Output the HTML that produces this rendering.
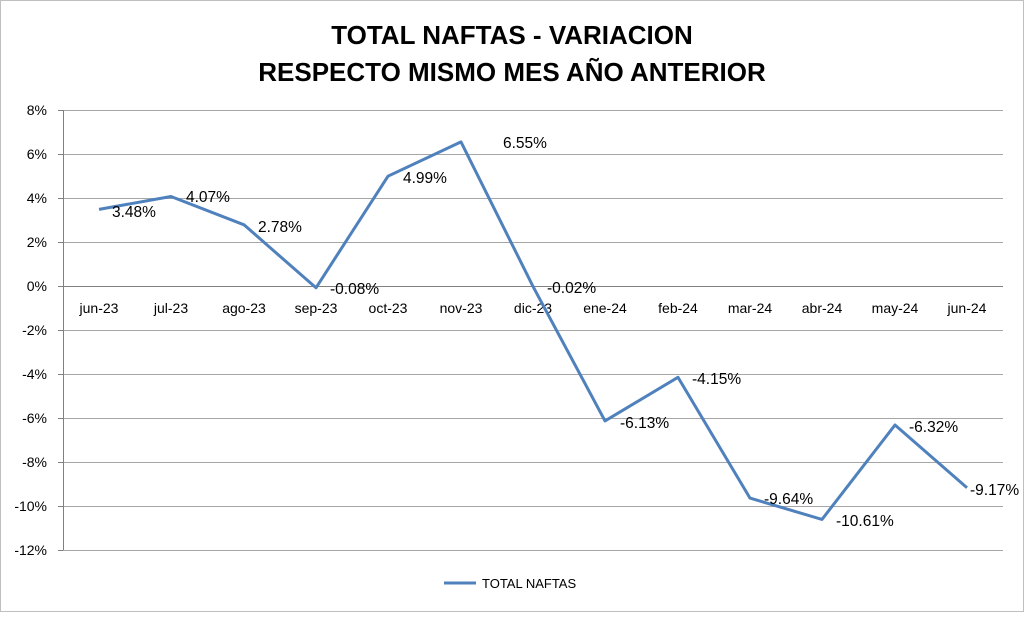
<!DOCTYPE html>
<html><head><meta charset="utf-8"><style>
body{margin:0;background:#fff;}
svg text{font-family:"Liberation Sans",Arial,sans-serif;}
</style></head><body>
<svg width="1024" height="612" xmlns="http://www.w3.org/2000/svg">
<rect x="0.5" y="0.5" width="1023" height="611" fill="#fff" stroke="#bfbfbf"/>
<text x="512" y="44" text-anchor="middle" font-size="26" font-weight="bold">TOTAL NAFTAS - VARIACION</text>
<text x="512" y="81" text-anchor="middle" font-size="26" font-weight="bold">RESPECTO MISMO MES AÑO ANTERIOR</text>
<g stroke="#a6a6a6" stroke-width="1">
<line x1="63" y1="110.5" x2="1003" y2="110.5"/>
<line x1="63" y1="154.5" x2="1003" y2="154.5"/>
<line x1="63" y1="198.5" x2="1003" y2="198.5"/>
<line x1="63" y1="242.5" x2="1003" y2="242.5"/>
<line x1="63" y1="330.5" x2="1003" y2="330.5"/>
<line x1="63" y1="374.5" x2="1003" y2="374.5"/>
<line x1="63" y1="418.5" x2="1003" y2="418.5"/>
<line x1="63" y1="462.5" x2="1003" y2="462.5"/>
<line x1="63" y1="506.5" x2="1003" y2="506.5"/>
<line x1="63" y1="550.5" x2="1003" y2="550.5"/>
</g>
<g stroke="#808080" stroke-width="1">
<line x1="63.5" y1="110" x2="63.5" y2="550"/>
<line x1="63" y1="286.5" x2="1003" y2="286.5"/>
<line x1="58" y1="110.5" x2="63" y2="110.5"/><line x1="58" y1="154.5" x2="63" y2="154.5"/><line x1="58" y1="198.5" x2="63" y2="198.5"/><line x1="58" y1="242.5" x2="63" y2="242.5"/><line x1="58" y1="286.5" x2="63" y2="286.5"/><line x1="58" y1="330.5" x2="63" y2="330.5"/><line x1="58" y1="374.5" x2="63" y2="374.5"/><line x1="58" y1="418.5" x2="63" y2="418.5"/><line x1="58" y1="462.5" x2="63" y2="462.5"/><line x1="58" y1="506.5" x2="63" y2="506.5"/><line x1="58" y1="550.5" x2="63" y2="550.5"/>
</g>
<g font-size="14" text-anchor="end">
<text x="47" y="115">8%</text><text x="47" y="159">6%</text><text x="47" y="203">4%</text><text x="47" y="247">2%</text><text x="47" y="291">0%</text><text x="47" y="335">-2%</text><text x="47" y="379">-4%</text><text x="47" y="423">-6%</text><text x="47" y="467">-8%</text><text x="47" y="511">-10%</text><text x="47" y="555">-12%</text>
</g>
<g font-size="14" text-anchor="middle">
<text x="99" y="313">jun-23</text><text x="171" y="313">jul-23</text><text x="244" y="313">ago-23</text><text x="316" y="313">sep-23</text><text x="388" y="313">oct-23</text><text x="461" y="313">nov-23</text><text x="533" y="313">dic-23</text><text x="605" y="313">ene-24</text><text x="678" y="313">feb-24</text><text x="750" y="313">mar-24</text><text x="822" y="313">abr-24</text><text x="895" y="313">may-24</text><text x="967" y="313">jun-24</text>
</g>
<polyline fill="none" stroke="#4f81bd" stroke-width="3" stroke-linejoin="round" points="99,209.4 171,196.5 244,224.8 316,287.8 388,176.2 461,141.9 533,286.4 605,420.9 678,377.3 750,498.1 822,519.4 895,425 967,487.7"/>
<g font-size="15.5">
<text x="112" y="217">3.48%</text><text x="186" y="202">4.07%</text><text x="258" y="232">2.78%</text><text x="330" y="294">-0.08%</text><text x="403" y="183">4.99%</text><text x="503" y="148">6.55%</text><text x="547" y="293">-0.02%</text><text x="620" y="428">-6.13%</text><text x="692" y="384">-4.15%</text><text x="764" y="504">-9.64%</text><text x="836" y="526">-10.61%</text><text x="909" y="432">-6.32%</text><text x="970" y="495">-9.17%</text>
</g>
<line x1="444" y1="583" x2="476" y2="583" stroke="#4f81bd" stroke-width="3"/>
<text x="482" y="588" font-size="13">TOTAL NAFTAS</text>
</svg>
</body></html>
